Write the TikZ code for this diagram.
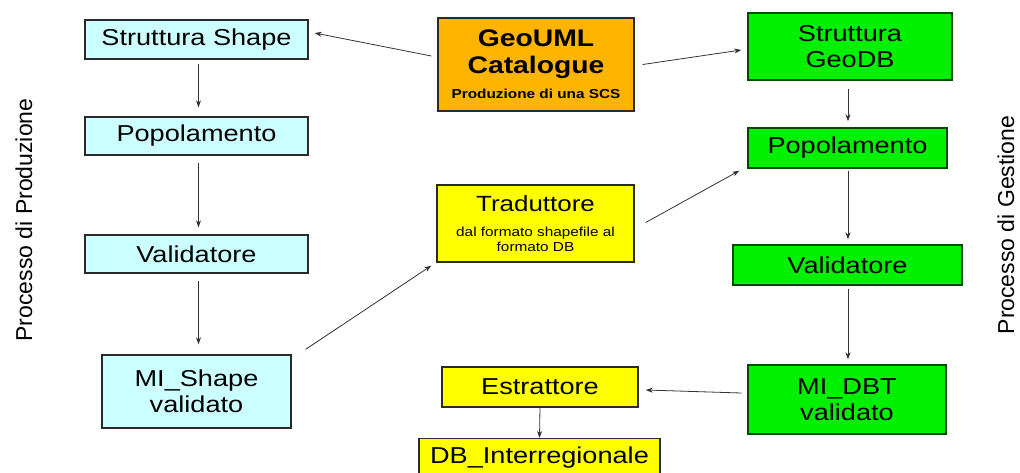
\documentclass[tikz,border=0pt]{standalone}
\usepackage{fontspec}
\setmainfont{Liberation Sans}[FakeStretch=1.18]
\newfontfamily\sidefont{Liberation Sans}
\usetikzlibrary{arrows.meta}
\definecolor{cyanfill}{HTML}{CCFFFF}
\definecolor{orangefill}{HTML}{FFB400}
\definecolor{yellowfill}{HTML}{FFFF00}
\definecolor{greenfill}{HTML}{00F000}
\definecolor{greenline}{HTML}{004A00}
\definecolor{boxline}{HTML}{2A2A2A}
\definecolor{arrowcol}{HTML}{333333}
\tikzset{
  box/.style={draw=boxline, line width=1.4pt, inner sep=0pt, align=center,
    font=\fontsize{23}{26}\selectfont},
  cyanbox/.style={box, fill=cyanfill},
  yellowbox/.style={box, fill=yellowfill},
  orangebox/.style={box, fill=orangefill},
  greenbox/.style={box, fill=greenfill, draw=greenline},
  conn/.style={draw=arrowcol, line width=0.8pt, -{Stealth[length=7pt,width=5pt]}},
  sidelabel/.style={rotate=90, font=\sidefont\fontsize{23}{26}\selectfont}
}
\begin{document}
\begin{tikzpicture}[x=1pt,y=-1pt]
\useasboundingbox (0,0) rectangle (1020,472);
% left column
\node[cyanbox, minimum width=223pt, minimum height=39pt] (ss) at (196.5,39.5) {Struttura Shape};
\node[cyanbox, minimum width=223pt, minimum height=38pt] (pp) at (196.5,136) {Popolamento};
\node[cyanbox, minimum width=223pt, minimum height=38pt] (vp) at (196.5,254) {Validatore};
\node[cyanbox, minimum width=189pt, minimum height=73pt] (ms) at (196.5,391.5) {MI\_Shape\\validato};
% center column
\node[orangebox, minimum width=196pt, minimum height=93pt, font=\bfseries\fontsize{24}{27}\selectfont] (geo) at (536,64.5)
  {GeoUML\\Catalogue\\[-2pt]{\fontsize{13}{15}\selectfont Produzione di una SCS}};
\node[yellowbox, minimum width=197pt, minimum height=77pt, font=\fontsize{13}{15}\selectfont] (trad) at (535.5,223.5)
  {{\fontsize{22}{26}\selectfont Traduttore}\\[10pt]dal formato shapefile al\\formato DB};
\node[yellowbox, minimum width=196pt, minimum height=40pt] (est) at (540,387) {Estrattore};
\node[yellowbox, minimum width=241pt, minimum height=38pt, anchor=north] (dbi) at (539.5,438) {DB\_Interregionale};
% right column
\node[greenbox, minimum width=204pt, minimum height=67pt] (sg) at (850,46.5) {Struttura\\GeoDB};
\node[greenbox, minimum width=199pt, minimum height=40pt] (pg) at (847.5,148) {Popolamento};
\node[greenbox, minimum width=229pt, minimum height=40pt] (vg) at (847.5,265) {Validatore};
\node[greenbox, minimum width=198pt, minimum height=69pt] (md) at (847,399.5) {MI\_DBT\\validato};
% side labels
\node[sidelabel] (lp) at (24,220) {Processo di Produzione};
\node[sidelabel] (lg) at (1006,225) {Processo di Gestione};
% connectors
\draw[conn] ([xshift=-6pt,yshift=8.5pt]geo.west) -- ([xshift=6pt,yshift=6.5pt]ss.east);
\draw[conn] ([xshift=8pt]geo.east) -- ([xshift=-6pt,yshift=-3.5pt]sg.west);
\draw[conn] ([xshift=2pt,yshift=-4pt]ss.south) -- ([xshift=2pt,yshift=9pt]pp.north);
\draw[conn] ([xshift=2pt,yshift=-7pt]pp.south) -- ([xshift=2pt,yshift=7pt]vp.north);
\draw[conn] ([xshift=2pt,yshift=-7pt]vp.south) -- ([xshift=2pt,yshift=10pt]ms.north);
\draw[conn] ([xshift=14pt,yshift=5pt]ms.north east) -- ([xshift=-5pt,yshift=-3pt]trad.south west);
\draw[conn] ([xshift=11pt,yshift=1pt]trad.east) -- ([xshift=-8pt,yshift=-2pt]pg.south west);
\draw[conn] ([xshift=-2pt,yshift=-8pt]sg.south) -- ([xshift=0.5pt,yshift=6pt]pg.north);
\draw[conn] ([xshift=0.5pt,yshift=-2pt]pg.south) -- ([xshift=0.5pt,yshift=5pt]vg.north);
\draw[conn] ([xshift=0.5pt,yshift=-3pt]vg.south) -- ([xshift=1pt,yshift=5pt]md.north);
\draw[conn] ([xshift=-6pt,yshift=6.5pt]md.west) -- ([xshift=7pt,yshift=-3pt]est.east);
\draw[conn] (est.south) -- (dbi.north);
\end{tikzpicture}
\end{document}
